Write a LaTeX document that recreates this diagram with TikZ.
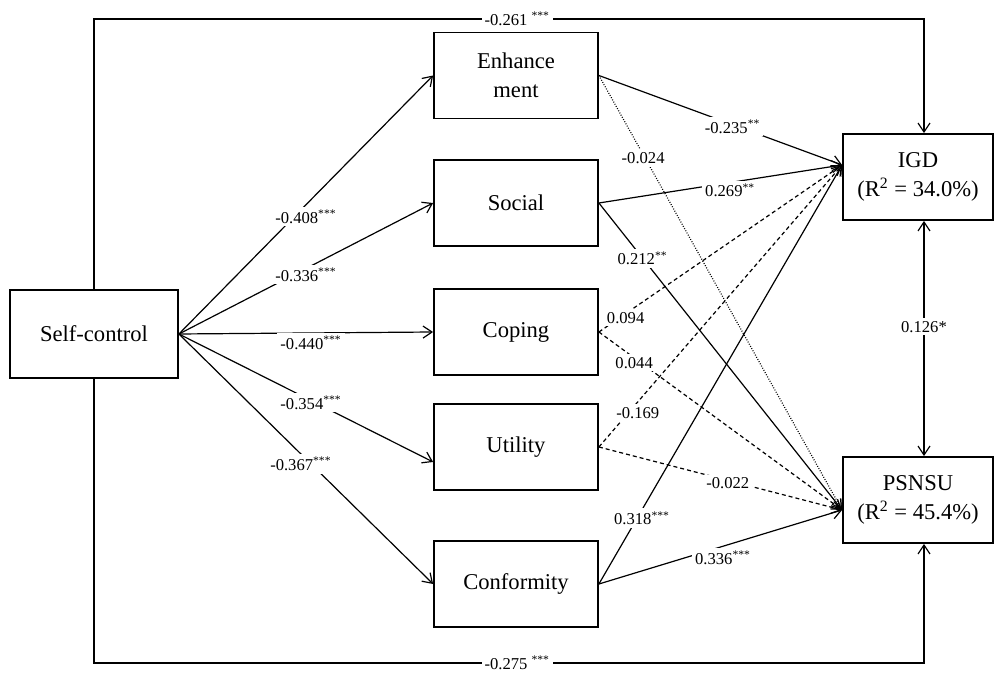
\documentclass[tikz,border=0pt]{standalone}
\usepackage{fontspec}
\setmainfont{Liberation Serif}
\usetikzlibrary{arrows.meta}
\begin{document}
\begin{tikzpicture}[x=0.5pt,y=-0.5pt,
  >={Straight Barb[length=4.5pt,width=6pt]},
  box/.style={draw, line width=0.9pt, minimum width=82pt, minimum height=43pt, inner sep=0pt, align=center, font=\fontsize{11.3}{14.5}\selectfont},
  conn/.style={line width=0.6pt, ->},
  dsh/.style={dash pattern=on 2pt off 1.5pt},
  dtt/.style={dash pattern=on 0.45pt off 0.8pt},
  lbl/.style={fill=white, inner sep=1.5pt, font=\fontsize{8.3}{10}\selectfont},
]
\useasboundingbox (0,0) rectangle (998,673);

% nodes
\node[box, minimum width=84pt, minimum height=44pt] (sc) at (94,334) {Self-control};
\node[box] (enh) at (516,75.5) {Enhance\\ment};
\node[box] (soc) at (516,203) {Social};
\node[box] (cop) at (516,332) {Coping};
\node[box] (uti) at (516,447) {Utility};
\node[box] (con) at (516,584) {Conformity};
\node[box, minimum width=75pt] (igd) at (918,177) {IGD\\(R\textsuperscript{2} = 34.0\%)};
\node[box, minimum width=75pt] (psn) at (918,500) {PSNSU\\(R\textsuperscript{2} = 45.4\%)};

% helper coordinates
\coordinate (tl) at (94,19);
\coordinate (tr) at (924,19);
\coordinate (bl) at (94,663);
\coordinate (br) at (924,663);
\coordinate (igdin) at ([yshift=6pt]igd.west);
\coordinate (psnin) at ([yshift=-5pt]psn.west);
\coordinate (utiin) at ([yshift=-7.5pt]uti.west);

% direct paths
\draw[conn] (sc.north) -- (tl) -- (tr) -- (tr |- igd.north);
\draw[conn] (sc.south) -- (bl) -- (br) -- (br |- psn.south);
\draw[line width=0.6pt, <->] (tr |- igd.south) -- (tr |- psn.north);

% self-control to mediators
\draw[conn] (sc.east) -- (enh.west);
\draw[conn] (sc.east) -- (soc.west);
\draw[conn] (sc.east) -- (cop.west);
\draw[conn] (sc.east) -- (utiin);
\draw[conn] (sc.east) -- (con.west);

% mediators to outcomes
\draw[conn] (enh.east) -- (igdin);
\draw[conn] (soc.east) -- (igdin);
\draw[conn,dsh] (cop.east) -- (igdin);
\draw[conn,dsh] (uti.east) -- (igdin);
\draw[conn] (con.east) -- (igdin);
\draw[conn,dtt] (enh.east) -- (psnin);
\draw[conn] (soc.east) -- (psnin);
\draw[conn,dsh] (cop.east) -- (psnin);
\draw[conn,dsh] (uti.east) -- (psnin);
\draw[conn] (con.east) -- (psnin);

% labels
\path (tl) -- node[lbl, pos=0.51]{-0.261 \textsuperscript{***}} (tr);
\path (bl) -- node[lbl, pos=0.51]{-0.275 \textsuperscript{***}} (br);
\path (tr |- igd.south) -- node[lbl, pos=0.45]{0.126*} (tr |- psn.north);

\path (sc.east) -- node[lbl, pos=0.5, yshift=-6pt]{-0.408\textsuperscript{***}} (enh.west);
\path (sc.east) -- node[lbl, pos=0.5, yshift=-3pt]{-0.336\textsuperscript{***}} (soc.west);
\path (sc.east) -- node[lbl, pos=0.52, yshift=-5pt]{-0.440\textsuperscript{***}} (cop.west);
\path (sc.east) -- node[lbl, pos=0.52, yshift=-1pt]{-0.354\textsuperscript{***}} (utiin);
\path (sc.east) -- node[lbl, pos=0.48, yshift=-5pt]{-0.367\textsuperscript{***}} (con.west);

\path (enh.east) -- node[lbl, pos=0.55, yshift=-1pt]{-0.235\textsuperscript{**}} (igdin);
\path (soc.east) -- node[lbl, pos=0.54, yshift=-4pt]{0.269\textsuperscript{**}} (igdin);
\path (cop.east) -- node[lbl, pos=0.11, yshift=-2pt]{0.094} (igdin);
\path (uti.east) -- node[lbl, pos=0.16, yshift=-5.5pt]{-0.169} (igdin);
\path (con.east) -- node[lbl, pos=0.157, xshift=2.5pt]{0.318\textsuperscript{***}} (igdin);
\path (enh.east) -- node[lbl, pos=0.19, xshift=-1pt]{-0.024} (psnin);
\path (soc.east) -- node[lbl, pos=0.18]{0.212\textsuperscript{**}} (psnin);
\path (cop.east) -- node[lbl, pos=0.145, yshift=-2.5pt]{0.044} (psnin);
\path (uti.east) -- node[lbl, pos=0.53, yshift=-1.5pt]{-0.022} (psnin);
\path (con.east) -- node[lbl, pos=0.49, yshift=-5pt, xshift=2.5pt]{0.336\textsuperscript{***}} (psnin);
\end{tikzpicture}
\end{document}
